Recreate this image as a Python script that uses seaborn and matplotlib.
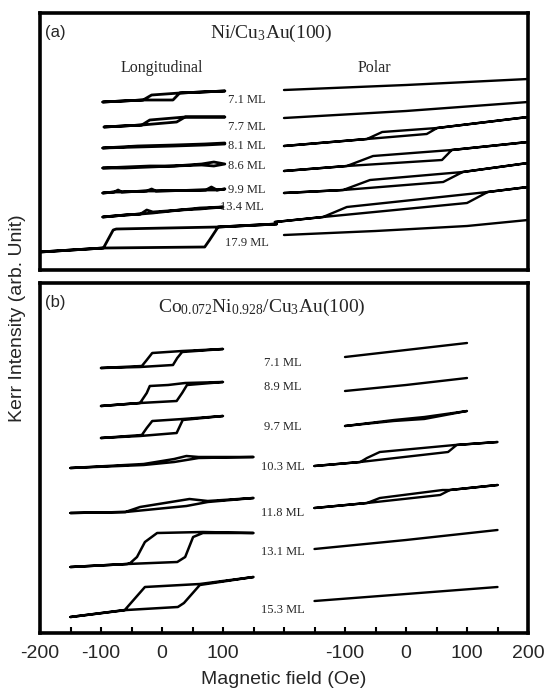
import matplotlib
matplotlib.use("Agg")
import matplotlib.pyplot as plt
import seaborn as sns

# Kerr loops: field H (Oe) and Kerr signal (arb. units, stacked)
# each loop: lower branch left->right, then upper branch right->left

# ---- (a) Ni/Cu3Au(100), longitudinal
a_long_71_h = [-97, -31, 18, 29, 103, 29, -17, -31, -97]
a_long_71_k = [168, 170, 170, 177, 179, 177, 175, 170, 168]
a_long_77_h = [-95, -33, 24, 38, 103, 38, -20, -33, -95]
a_long_77_k = [143, 145, 148, 153, 153, 153, 150, 145, 143]
a_long_81_h = [-97, -40, 20, 70, 103, 103, 70, 20, -40, -97]
a_long_81_k = [122, 123, 124, 125, 126, 127, 126, 125, 124, 122]
a_long_86_h = [-97, -60, -20, 20, 65, 85, 103, 85, 65, 20, -20, -60, -97]
a_long_86_k = [102, 102, 103, 104, 105, 104, 106, 108, 106, 104, 104, 103, 102]
a_long_99_h = [-97, -78, -66, -25, -10, 72, 90, 103, 90, 81, 72, -10, -17, -25, -66, -72, -78, -97]
a_long_99_k = [77, 78, 78, 79, 79, 80, 80, 81, 80, 83, 80, 79, 81, 79, 78, 80, 78, 77]
a_long_134_h = [-97, -60, -35, -15, 30, 62, 100, 62, 30, -15, -25, -35, -60, -97]
a_long_134_k = [53, 55, 56, 57, 60, 61, 63, 62, 60, 58, 60, 56, 55, 53]
a_long_179_h = [-200, -96, 70, 78, 92, 188, 92, -75, -80, -96, -200]
a_long_179_k = [18, 22, 23, 30, 43, 46, 43, 41, 40, 22, 18]

# ---- (a) polar
a_pol_71_h = [-200, 0, 200]
a_pol_71_k = [180, 185, 191]
a_pol_77_h = [-200, 0, 200]
a_pol_77_k = [152, 159, 168]
a_pol_81_h = [-200, -64, 34, 51, 200, 51, -39, -64, -200]
a_pol_81_k = [124, 131, 136, 142, 153, 142, 138, 131, 124]
a_pol_86_h = [-200, -97, 59, 75, 200, 75, -54, -97, -200]
a_pol_86_k = [99, 104, 110, 120, 128, 120, 114, 104, 99]
a_pol_99_h = [-200, -103, 61, 93, 200, 93, -59, -103, -200]
a_pol_99_k = [77, 80, 88, 98, 107, 98, 90, 80, 77]
a_pol_134_h = [-215, -136, 100, 134, 200, 134, -97, -136, -215]
a_pol_134_k = [48, 53, 67, 78, 83, 78, 63, 53, 48]
a_pol_179_h = [-200, -50, 100, 200]
a_pol_179_k = [35, 39, 44, 50]

a_labels = ["7.1 ML", "7.7 ML", "8.1 ML", "8.6 ML", "9.9 ML", "13.4 ML", "17.9 ML"]
a_label_k = [170, 143, 124, 104, 80, 63, 27]

# ---- (b) Co0.072Ni0.928/Cu3Au(100), longitudinal
b_long_71_h = [-100, -36, 18, 25, 33, 100, 33, -16, -25, -33, -100]
b_long_71_k = [265, 266, 268, 275, 281, 284, 282, 280, 273, 267, 265]
b_long_89_h = [-100, -36, 24, 33, 41, 100, 38, 10, -20, -25, -36, -100]
b_long_89_k = [227, 230, 232, 240, 248, 251, 250, 248, 247, 240, 230, 227]
b_long_97_h = [-100, -36, 24, 34, 100, 34, -16, -25, -33, -100]
b_long_97_k = [195, 197, 200, 213, 217, 214, 212, 205, 198, 195]
b_long_103_h = [-150, -30, 20, 40, 60, 150, 60, 40, 20, -30, -150]
b_long_103_k = [165, 168, 171, 173, 175, 176, 176, 177, 174, 169, 165]
b_long_118_h = [-150, -60, 40, 75, 150, 75, 45, -36, -60, -150]
b_long_118_k = [120, 121, 127, 131, 135, 132, 134, 126, 121, 120]
b_long_131_h = [-150, -57, 25, 38, 51, 67, 150, 67, -8, -28, -41, -52, -57, -150]
b_long_131_k = [66, 69, 71, 76, 96, 100, 100, 101, 100, 91, 76, 70, 69, 66]
b_long_153_h = [-150, -58, 26, 36, 62, 150, 62, -28, -61, -150]
b_long_153_k = [16, 23, 26, 30, 48, 56, 49, 46, 23, 16]

# ---- (b) polar
b_pol_71_h = [-100, 0, 100]
b_pol_71_k = [276, 283, 290]
b_pol_89_h = [-100, 0, 100]
b_pol_89_k = [242, 248, 255]
b_pol_97_h = [-100, -20, 30, 100, 30, -20, -100]
b_pol_97_k = [207, 212, 214, 222, 216, 213, 207]
b_pol_103_h = [-150, -75, 69, 83, 150, 80, -43, -64, -75, -150]
b_pol_103_k = [167, 171, 181, 188, 191, 188, 181, 175, 171, 167]
b_pol_118_h = [-150, -64, 56, 72, 150, 72, 60, -43, -64, -150]
b_pol_118_k = [125, 130, 138, 143, 148, 143, 143, 135, 130, 125]
b_pol_131_h = [-150, 0, 150]
b_pol_131_k = [84, 93, 103]
b_pol_153_h = [-150, 0, 150]
b_pol_153_k = [32, 39, 46]

b_labels = ["7.1 ML", "8.9 ML", "9.7 ML", "10.3 ML", "11.8 ML", "13.1 ML", "15.3 ML"]
b_label_k = [270, 246, 206, 166, 120, 81, 23]

# shared x axis: longitudinal block on the left, polar block shifted right
POLAR_SHIFT = 400
tick_pos = list(range(-200, 601, 50))
tick_text = {-200: "-200", -100: "-100", 0: "0", 100: "100",
             300: "-100", 400: "0", 500: "100", 600: "200"}

sns.set_theme(style="white")
plt.rcParams["font.family"] = ["Liberation Sans", "DejaVu Sans"]
plt.rcParams["mathtext.fontset"] = "custom"
plt.rcParams["mathtext.rm"] = "Liberation Serif"
plt.rcParams["mathtext.it"] = "Liberation Serif:italic"
SERIF = ["Liberation Serif", "DejaVu Serif"]

fig = plt.figure(figsize=(5.58, 6.94), dpi=100)
W, H = 558, 694
ax_a = fig.add_axes([40 / W, 1 - 270 / H, 488 / W, 257 / H])
ax_b = fig.add_axes([40 / W, 1 - 633 / H, 488 / W, 350 / H])

a_long = [(a_long_71_h, a_long_71_k), (a_long_77_h, a_long_77_k), (a_long_81_h, a_long_81_k),
          (a_long_86_h, a_long_86_k), (a_long_99_h, a_long_99_k), (a_long_134_h, a_long_134_k),
          (a_long_179_h, a_long_179_k)]
a_pol = [(a_pol_71_h, a_pol_71_k), (a_pol_77_h, a_pol_77_k), (a_pol_81_h, a_pol_81_k),
         (a_pol_86_h, a_pol_86_k), (a_pol_99_h, a_pol_99_k), (a_pol_134_h, a_pol_134_k),
         (a_pol_179_h, a_pol_179_k)]
b_long = [(b_long_71_h, b_long_71_k), (b_long_89_h, b_long_89_k), (b_long_97_h, b_long_97_k),
          (b_long_103_h, b_long_103_k), (b_long_118_h, b_long_118_k), (b_long_131_h, b_long_131_k),
          (b_long_153_h, b_long_153_k)]
b_pol = [(b_pol_71_h, b_pol_71_k), (b_pol_89_h, b_pol_89_k), (b_pol_97_h, b_pol_97_k),
         (b_pol_103_h, b_pol_103_k), (b_pol_118_h, b_pol_118_k), (b_pol_131_h, b_pol_131_k),
         (b_pol_153_h, b_pol_153_k)]


def draw_loops(ax, loops, shift, lw):
    for h, k in loops:
        sns.lineplot(x=[v + shift for v in h], y=k, sort=False, estimator=None,
                     color="black", linewidth=lw, ax=ax, legend=False)


draw_loops(ax_a, a_long, 0, 2.0)
draw_loops(ax_a, a_pol, POLAR_SHIFT, 1.7)
draw_loops(ax_b, b_long, 0, 1.8)
draw_loops(ax_b, b_pol, POLAR_SHIFT, 1.7)

# thickness labels
for lab, k in zip(a_labels, a_label_k):
    x = 131 if lab == "13.4 ML" else 139
    ax_a.text(x, k, lab, ha="center", va="center", fontsize=9, family=SERIF)
for lab, k in zip(b_labels, b_label_k):
    ax_b.text(198, k, lab, ha="center", va="center", fontsize=9, family=SERIF)

ax_a.text(0, 202, "Longitudinal", ha="center", va="center", fontsize=11.5, family=SERIF)
ax_a.text(349, 202, "Polar", ha="center", va="center", fontsize=11.5, family=SERIF)
ax_a.text(0.473, 0.922, r"Ni/Cu$_3$Au(100)", transform=ax_a.transAxes,
          ha="center", va="center", fontsize=14, family=SERIF)
ax_b.text(0.455, 0.931, r"Co$_{0.072}$Ni$_{0.928}$/Cu$_3$Au(100)", transform=ax_b.transAxes,
          ha="center", va="center", fontsize=14, family=SERIF)
ax_a.text(0.01, 0.955, "(a)", transform=ax_a.transAxes, ha="left", va="top", fontsize=12)
ax_b.text(0.01, 0.965, "(b)", transform=ax_b.transAxes, ha="left", va="top", fontsize=12)

for ax, top in ((ax_a, 257), (ax_b, 350)):
    ax.set_xlim(-200, 600)
    ax.set_ylim(0, top)
    ax.set_yticks([])
    ax.set_xlabel("")
    ax.set_ylabel("")
    for sp in ax.spines.values():
        sp.set_color("black")
        sp.set_linewidth(2.6)

ax_a.set_xticks([])
ax_b.set_xticks(tick_pos)
ax_b.set_xticklabels([tick_text.get(t, "") for t in tick_pos])
ax_b.tick_params(axis="x", direction="in", length=4, width=1.5, color="black",
                 labelsize=14, pad=9, bottom=True)
ax_b.set_xlabel("Magnetic field (Oe)", fontsize=14, labelpad=6)

fig.text(18 / W, 1 - 318 / H, "Kerr Intensity (arb. Unit)", rotation=90,
         ha="center", va="center", fontsize=14)

fig.savefig("out.png", dpi=100)
